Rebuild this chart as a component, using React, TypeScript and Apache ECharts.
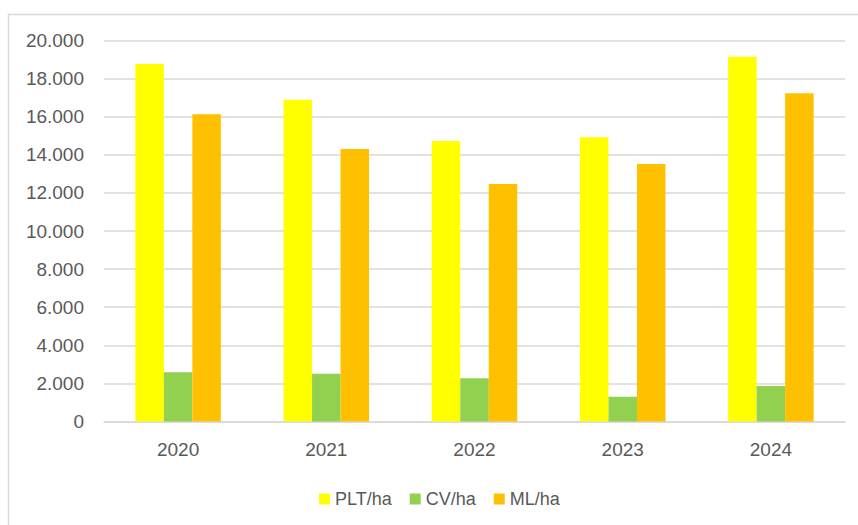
import React, { useEffect, useRef } from "react";
import * as echarts from "echarts";

const categories = ["2020", "2021", "2022", "2023", "2024"];
const pltHa = [18770, 16890, 14720, 14920, 19150];
const cvHa = [2580, 2510, 2270, 1300, 1860];
const mlHa = [16130, 14300, 12470, 13520, 17230];
const seriesNames = ["PLT/ha", "CV/ha", "ML/ha"];
const yTicks = { min: 0, max: 20000, interval: 2000 };

const fmt = (v: number) => String(v).replace(/\B(?=(\d{3})+(?!\d))/g, ".");

export default function App() {
  const ref = useRef<HTMLDivElement>(null);
  useEffect(() => {
    if (!ref.current) return;
    const chart = echarts.init(ref.current, null, { renderer: "svg" });
    const textColor = "#595959";
    const font = "'Liberation Sans', Arial, sans-serif";
    chart.setOption({
      animation: false,
      backgroundColor: "#ffffff",
      textStyle: { fontFamily: font },
      graphic: [
        {
          type: "rect",
          shape: { x: 8.5, y: 14.5, width: 900, height: 600 },
          style: { fill: "none", stroke: "#D9D9D9", lineWidth: 1.5 },
          silent: true,
          z: 0,
        },
      ],
      grid: { left: 104, right: 13, top: 40.5, bottom: 103.5, containLabel: false },
      legend: {
        data: seriesNames,
        left: 314,
        top: 485,
        icon: "rect",
        itemWidth: 11,
        itemHeight: 11,
        itemGap: 18,
        textStyle: { color: textColor, fontSize: 18, fontFamily: font },
      },
      xAxis: {
        type: "category",
        data: categories,
        axisLine: { lineStyle: { color: "#D9D9D9", width: 1.5 } },
        axisTick: { show: false },
        axisLabel: { color: textColor, fontSize: 19, margin: 18, fontFamily: font },
      },
      yAxis: {
        type: "value",
        min: yTicks.min,
        max: yTicks.max,
        interval: yTicks.interval,
        axisLine: { show: false },
        axisTick: { show: false },
        splitLine: { lineStyle: { color: "#D9D9D9", width: 1.5 } },
        axisLabel: {
          color: textColor,
          fontSize: 19,
          margin: 20,
          fontFamily: font,
          formatter: (v: number) => fmt(v),
        },
      },
      series: [
        { name: seriesNames[0], type: "bar", data: pltHa, barWidth: 28.5, barGap: "0%", itemStyle: { color: "#FFFF00" } },
        { name: seriesNames[1], type: "bar", data: cvHa, barWidth: 28.5, barGap: "0%", itemStyle: { color: "#92D050" } },
        { name: seriesNames[2], type: "bar", data: mlHa, barWidth: 28.5, barGap: "0%", itemStyle: { color: "#FFC000" } },
      ],
    });
    return () => chart.dispose();
  }, []);
  return (
    <div
      ref={ref}
      style={{ position: "absolute", left: 0, top: 0, width: 858, height: 525, background: "#fff" }}
    />
  );
}
